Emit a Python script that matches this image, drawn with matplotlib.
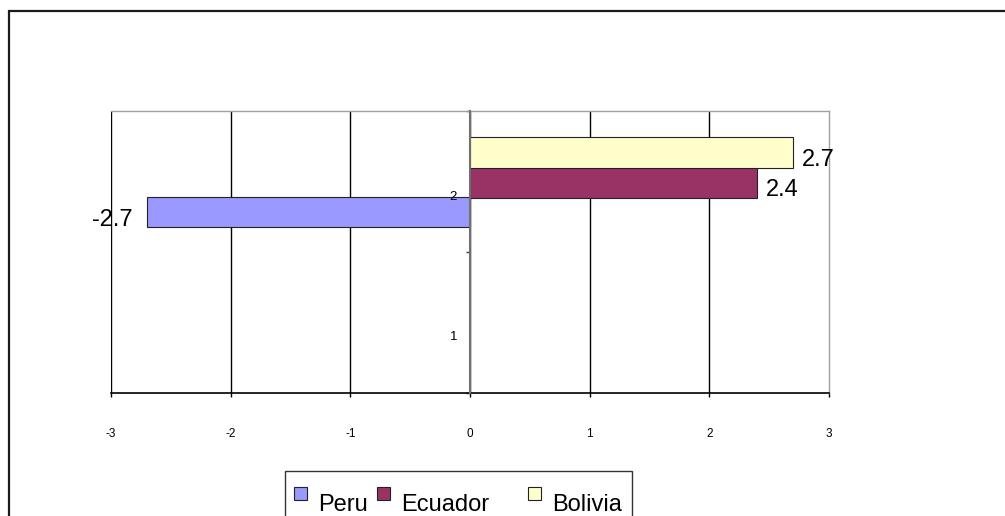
import numpy as np
import matplotlib
matplotlib.use("Agg")
import matplotlib.pyplot as plt
from matplotlib.patches import Rectangle
from matplotlib.transforms import offset_copy

plt.rcParams['font.family'] = ['Liberation Sans', 'DejaVu Sans']

# Data
categories = [1, 2]
series_names = ["Peru", "Ecuador", "Bolivia"]
peru = [np.nan, -2.7]
ecuador = [np.nan, 2.4]
bolivia = [np.nan, 2.7]
x_ticks = [-3, -2, -1, 0, 1, 2, 3]

colors = {"Peru": "#9999ff", "Ecuador": "#993366", "Bolivia": "#ffffcc"}
values = {"Peru": peru, "Ecuador": ecuador, "Bolivia": bolivia}

W, H = 1005, 516
fig = plt.figure(figsize=(W / 100, H / 100), dpi=100)
fig.patch.set_facecolor("white")


def fx(px):
    return px / W


def fy(py):
    return (H - py) / H


# outer chart frame (runs off the right and bottom edges)
fig.patches.append(Rectangle((fx(9), fy(11) - 1.5), 1.5, 1.5, transform=fig.transFigure,
                             fill=False, edgecolor="#1a1a1a", linewidth=1.6, clip_on=False))

ax = fig.add_axes([fx(111), fy(393), fx(829) - fx(111), fy(111) - fy(393)])
ax.set_xlim(-3, 3)
ax.set_ylim(0.5, 2.5)

bar_h = 0.215
offsets = {"Peru": -0.218, "Ecuador": -0.008, "Bolivia": 0.205}
cats = np.array(categories, dtype=float)
for name in series_names:
    ax.barh(cats + offsets[name], values[name], height=bar_h, color=colors[name],
            edgecolor="#222222", linewidth=0.8, zorder=3)

# value labels
for name in series_names:
    for c, v in zip(categories, values[name]):
        if np.isnan(v):
            continue
        if v >= 0:
            tr = offset_copy(ax.transData, fig=fig, x=9, y=-13, units='dots')
            ha = 'left'
        else:
            tr = offset_copy(ax.transData, fig=fig, x=-14, y=-14, units='dots')
            ha = 'right'
        ax.text(v, c + offsets[name], f"{v:g}", transform=tr, ha=ha, va='baseline',
                fontsize=17, color="black", zorder=5, clip_on=False)

# x axis and grid
ax.set_xticks(x_ticks)
ax.set_xticklabels([str(t) for t in x_ticks], fontsize=8.5)
ax.tick_params(axis='x', direction='out', length=3, width=1, color='black', pad=22)
ax.grid(axis='x', color='black', linewidth=1, zorder=1)
ax.xaxis.get_gridlines()[-1].set_visible(False)
ax.set_axisbelow(True)

# category axis sits at x = 0
ax.spines['left'].set_position(('data', 0))
ax.spines['left'].set_color('#707070')
ax.spines['left'].set_linewidth(1.5)
ax.spines['left'].set_zorder(4)
ax.set_yticks([0.5, 1.5, 2.5])
ax.set_yticklabels([])
ax.tick_params(axis='y', direction='out', length=3, width=1, color='#404040')
for c in categories:
    tr = offset_copy(ax.transData, fig=fig, x=-13, y=-15, units='dots')
    ax.text(0, c, str(c), transform=tr, ha='right', va='center', fontsize=9.5)

ax.spines['bottom'].set_color('black')
ax.spines['bottom'].set_linewidth(1.2)
ax.spines['top'].set_color('#a0a0a0')
ax.spines['right'].set_color('#a0a0a0')
ax.spines['top'].set_linewidth(1)
ax.spines['right'].set_linewidth(1)

# legend box
fig.patches.append(Rectangle((fx(285), fy(471) - 0.5), fx(632) - fx(285), 0.5,
                             transform=fig.transFigure, fill=False,
                             edgecolor="#333333", linewidth=1, clip_on=False))
legend_x = {"Peru": 294, "Ecuador": 377, "Bolivia": 528}
for name in series_names:
    x0 = legend_x[name]
    fig.patches.append(Rectangle((fx(x0), fy(500)), fx(13), 13 / H,
                                 transform=fig.transFigure, facecolor=colors[name],
                                 edgecolor="#222222", linewidth=0.8))
    fig.text(fx(x0 + 24), fy(511), name, ha='left', va='baseline', fontsize=17)

fig.savefig("out.png", dpi=100)
